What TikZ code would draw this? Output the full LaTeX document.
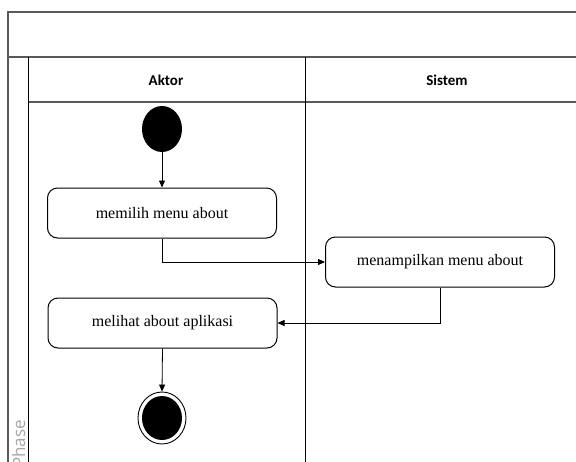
\documentclass[tikz,border=0pt]{standalone}
\usepackage{fontspec}
\setmainfont{Liberation Serif}
\newfontfamily\headfont{Carlito}
\newfontfamily\phasefont{Open Sans}
\usetikzlibrary{shapes.geometric,arrows.meta}
\begin{document}
\begin{tikzpicture}[x=1pt,y=-1pt,
  frameline/.style={draw=black!65, line width=1.1pt},
  laneline/.style={draw=black, line width=1pt},
  action/.style={draw=black, line width=1pt, rounded corners=10pt, fill=white,
    minimum width=229pt, minimum height=50pt, inner sep=0pt,
    font=\fontsize{16}{19}\selectfont},
  lanehead/.style={font=\headfont\bfseries\fontsize{15}{18}\selectfont, inner sep=0pt},
  startnode/.style={ellipse, fill=black, minimum width=40pt, minimum height=46pt, inner sep=0pt},
  flow/.style={draw=black, line width=0.8pt, -{Triangle[length=7pt,width=6pt]}}
]
\useasboundingbox (0,0) rectangle (576,461);
\clip (0,0) rectangle (576,461);
\fill[white] (0,0) rectangle (576,461);

% pool frame, title band and lane header band
\draw[frameline] (600,12) -- (8,12) -- (8,470);
\draw[frameline] (8,57) -- (600,57);
\draw[frameline] (28,102) -- (600,102);
% phase column and lane divider
\draw[laneline] (28,57) -- (28,470);
\draw[laneline] (305,57) -- (305,470);

\node[lanehead] (hAktor) at (166,80) {Aktor};
\node[lanehead] (hSistem) at (447,80) {Sistem};
\node[rotate=90, anchor=base east, inner sep=0pt, text=black!35,
  font=\phasefont\fontsize{17}{20}\selectfont] (phase) at (25,420) {Phase};

% activity flow
\node[startnode] (start) at (162,129) {};
\node[action] (a1) at (162,213) {memilih menu about};
\node[action] (a2) at (440,262) {menampilkan menu about};
\node[action] (a3) at (162.5,323) {melihat about aplikasi};
\node[ellipse, draw=black, line width=0.9pt, fill=white, minimum width=48pt,
  minimum height=52pt, inner sep=0pt] (endo) at (162,418) {};
\node[ellipse, fill=black, minimum width=40pt, minimum height=44pt, inner sep=0pt]
  (endi) at (162,418) {};

\draw[flow] (start) -- (a1);
\draw[flow] (a1.south) |- (a2.west);
\draw[flow] (a2.south) |- (a3.east);
\draw[flow] (a3.south) -- (endo.north);
\end{tikzpicture}
\end{document}
